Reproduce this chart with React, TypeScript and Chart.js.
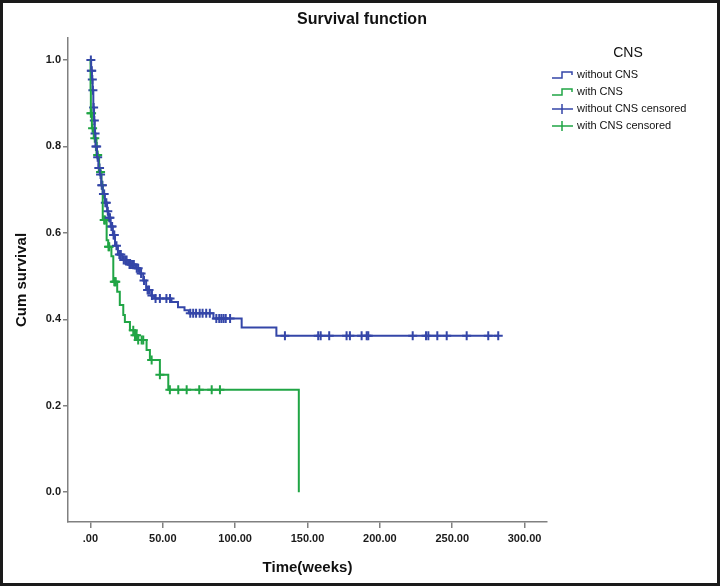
import React, { useEffect, useRef } from "react";
import { Chart, registerables } from "chart.js";
Chart.register(...registerables);

// Kaplan-Meier step data (time in weeks, cumulative survival after the step)
const blueTimes = [0, 0.5, 1, 1.5, 2, 2.5, 3, 3.5, 4.5, 5.5, 6.5, 7.5, 8.5, 10, 11.5, 12.5, 14, 15.5, 17, 19, 22, 26, 31, 34, 36.5, 38.5, 42, 44, 56, 60.5, 65, 68, 85, 104.5, 128.5, 282];
const blueSurv = [1.0, 0.975, 0.955, 0.93, 0.89, 0.86, 0.83, 0.8, 0.775, 0.75, 0.735, 0.71, 0.69, 0.67, 0.65, 0.635, 0.615, 0.595, 0.57, 0.55, 0.537, 0.527, 0.518, 0.506, 0.49, 0.468, 0.455, 0.448, 0.44, 0.428, 0.421, 0.414, 0.402, 0.381, 0.362, 0.362];
const blueCensored = [0.3, 0.6, 0.9, 1.3, 1.7, 2.2, 2.7, 3.2, 3.8, 4.3, 5, 5.8, 6.3, 7, 7.8, 8.3, 9, 9.5, 10.3, 11, 12, 13, 13.5, 14.5, 15, 16, 16.5, 18, 20, 21, 23, 24, 25, 27, 28, 29, 30, 32, 33, 35, 37, 39.5, 40.5, 42.5, 45, 48, 52.5, 55, 69, 71, 73, 75.5, 77.5, 80, 82.5, 87, 89, 90.5, 92, 93.5, 96.5, 134.4, 157.4, 159.1, 165, 177, 179.3, 187.4, 190.9, 192, 222.7, 231.9, 233.5, 239.7, 246.2, 260, 274.9, 281.8];

const greenTimes = [0, 0.1, 0.3, 1, 2.3, 4.2, 6, 7.6, 8.5, 11.2, 12.3, 14.5, 15.8, 18.5, 20.3, 22.7, 23.8, 27.3, 30.8, 33, 38.8, 41.1, 48, 53.8, 144];
const greenSurv = [1.0, 0.93, 0.877, 0.842, 0.819, 0.78, 0.741, 0.711, 0.63, 0.583, 0.568, 0.546, 0.487, 0.464, 0.433, 0.41, 0.394, 0.375, 0.363, 0.352, 0.329, 0.306, 0.272, 0.237, 0.0];
const greenCensored = [0.3, 0.8, 1.5, 3, 5, 7, 9.5, 10, 12.5, 13, 16.5, 17, 17.5, 29.6, 30.8, 31.9, 33, 35.4, 36.5, 42.3, 48, 54.9, 60.7, 66.5, 75.2, 83.8, 89.5];

const xTicks = [0, 50, 100, 150, 200, 250, 300];
const xTickLabels = [".00", "50.00", "100.00", "150.00", "200.00", "250.00", "300.00"];
const yTicks = [0, 0.2, 0.4, 0.6, 0.8, 1.0];
const yTickLabels = ["0.0", "0.2", "0.4", "0.6", "0.8", "1.0"];

const legendTitle = "CNS";
const legendLabels = ["without CNS", "with CNS", "without CNS censored", "with CNS censored"];
const chartTitle = "Survival function";
const xTitle = "Time(weeks)";
const yTitle = "Cum survival";

const BLUE = "#3446a8";
const GREEN = "#20a545";
const FONT = "'Liberation Sans', Arial, sans-serif";

function survAt(times: number[], surv: number[], t: number) {
  let s = surv[0];
  for (let i = 0; i < times.length; i++) {
    if (times[i] <= t) s = surv[i];
  }
  return s;
}

export default function App() {
  const ref = useRef<HTMLCanvasElement>(null);
  useEffect(() => {
    if (!ref.current) return;
    const decor = {
      id: "decor",
      beforeDraw(chart: any) {
        const ctx = chart.ctx;
        ctx.save();
        ctx.fillStyle = "#ffffff";
        ctx.fillRect(0, 0, chart.width, chart.height);
        ctx.restore();
      },
      afterDraw(chart: any) {
        const ctx = chart.ctx;
        const a = chart.chartArea;
        ctx.save();
        ctx.fillStyle = "#111";
        ctx.textAlign = "center";
        ctx.textBaseline = "middle";
        ctx.font = `bold 16px ${FONT}`;
        ctx.fillText(chartTitle, 362, 20);
        ctx.font = `bold 15px ${FONT}`;
        ctx.fillText(xTitle, (a.left + a.right) / 2, 568);
        ctx.save();
        ctx.translate(22, (a.top + a.bottom) / 2);
        ctx.rotate(-Math.PI / 2);
        ctx.fillText(yTitle, 0, 0);
        ctx.restore();
        // legend
        ctx.font = `14px ${FONT}`;
        ctx.fillText(legendTitle, 628, 53);
        ctx.font = `11px ${FONT}`;
        ctx.textAlign = "left";
        const rows = [75, 92, 109, 126];
        const cols = [BLUE, GREEN, BLUE, GREEN];
        rows.forEach((y, i) => {
          ctx.strokeStyle = cols[i];
          ctx.lineWidth = 1.5;
          ctx.beginPath();
          if (i < 2) {
            ctx.moveTo(552, y + 3);
            ctx.lineTo(562, y + 3);
            ctx.lineTo(562, y - 3);
            ctx.lineTo(572, y - 3);
            ctx.lineTo(572, y);
          } else {
            ctx.moveTo(552, y);
            ctx.lineTo(573, y);
            ctx.moveTo(562, y - 5);
            ctx.lineTo(562, y + 5);
          }
          ctx.stroke();
          ctx.fillStyle = "#111";
          ctx.fillText(legendLabels[i], 577, y);
        });
        // frame
        ctx.strokeStyle = "#1a1a1a";
        ctx.lineWidth = 3;
        ctx.strokeRect(1.5, 1.5, chart.width - 3, chart.height - 3);
        ctx.restore();
      },
    };

    const chart = new Chart(ref.current, {
      type: "scatter",
      data: {
        datasets: [
          {
            label: legendLabels[0],
            data: blueTimes.map((t, i) => ({ x: t, y: blueSurv[i] })),
            showLine: true,
            stepped: true,
            borderColor: BLUE,
            borderWidth: 2,
            pointRadius: 0,
            fill: false,
          },
          {
            label: legendLabels[1],
            data: greenTimes.map((t, i) => ({ x: t, y: greenSurv[i] })),
            showLine: true,
            stepped: true,
            borderColor: GREEN,
            borderWidth: 2,
            pointRadius: 0,
            fill: false,
          },
          {
            label: legendLabels[2],
            data: blueCensored.map((t) => ({ x: t, y: survAt(blueTimes, blueSurv, t) })),
            showLine: false,
            pointStyle: "cross",
            pointRadius: 4.5,
            borderColor: BLUE,
            backgroundColor: BLUE,
            pointBorderWidth: 2,
          },
          {
            label: legendLabels[3],
            data: greenCensored.map((t) => ({ x: t, y: survAt(greenTimes, greenSurv, t) })),
            showLine: false,
            pointStyle: "cross",
            pointRadius: 4.5,
            borderColor: GREEN,
            backgroundColor: GREEN,
            pointBorderWidth: 2,
          },
        ],
      },
      options: {
        animation: false,
        responsive: false,
        maintainAspectRatio: false,
        layout: { padding: { left: 0, right: 173, top: 38, bottom: 0 } },
        plugins: { legend: { display: false }, tooltip: { enabled: false }, title: { display: false } },
        scales: {
          x: {
            type: "linear",
            min: -15.5,
            max: 315.5,
            afterBuildTicks: (axis: any) => {
              axis.ticks = xTicks.map((v) => ({ value: v }));
            },
            afterFit: (scale: any) => {
              scale.height = 64;
            },
            ticks: {
              autoSkip: false,
              maxRotation: 0,
              padding: 4,
              color: "#1a1a1a",
              font: { family: FONT, size: 11, weight: "bold" },
              callback: (v: any) => {
                const i = xTicks.indexOf(Number(v));
                return i >= 0 ? xTickLabels[i] : "";
              },
            },
            grid: { drawOnChartArea: false, drawTicks: true, tickLength: 6, color: "#808080", lineWidth: 1.5 },
            border: { display: true, color: "#808080", width: 1.5 },
          },
          y: {
            type: "linear",
            min: -0.069,
            max: 1.051,
            afterBuildTicks: (axis: any) => {
              axis.ticks = yTicks.map((v) => ({ value: v }));
            },
            afterFit: (scale: any) => {
              scale.width = 68;
            },
            ticks: {
              autoSkip: false,
              padding: 2,
              color: "#1a1a1a",
              font: { family: FONT, size: 11, weight: "bold" },
              callback: (v: any) => {
                const i = yTicks.findIndex((t) => Math.abs(t - Number(v)) < 1e-6);
                return i >= 0 ? yTickLabels[i] : "";
              },
            },
            grid: { drawOnChartArea: false, drawTicks: true, tickLength: 5, color: "#808080", lineWidth: 1.5 },
            border: { display: true, color: "#808080", width: 1.5 },
          },
        },
      },
      plugins: [decor],
    });
    return () => chart.destroy();
  }, []);

  return (
    <div style={{ position: "fixed", left: 0, top: 0, width: 720, height: 586 }}>
      <canvas ref={ref} width={720} height={586} style={{ display: "block" }} />
    </div>
  );
}
